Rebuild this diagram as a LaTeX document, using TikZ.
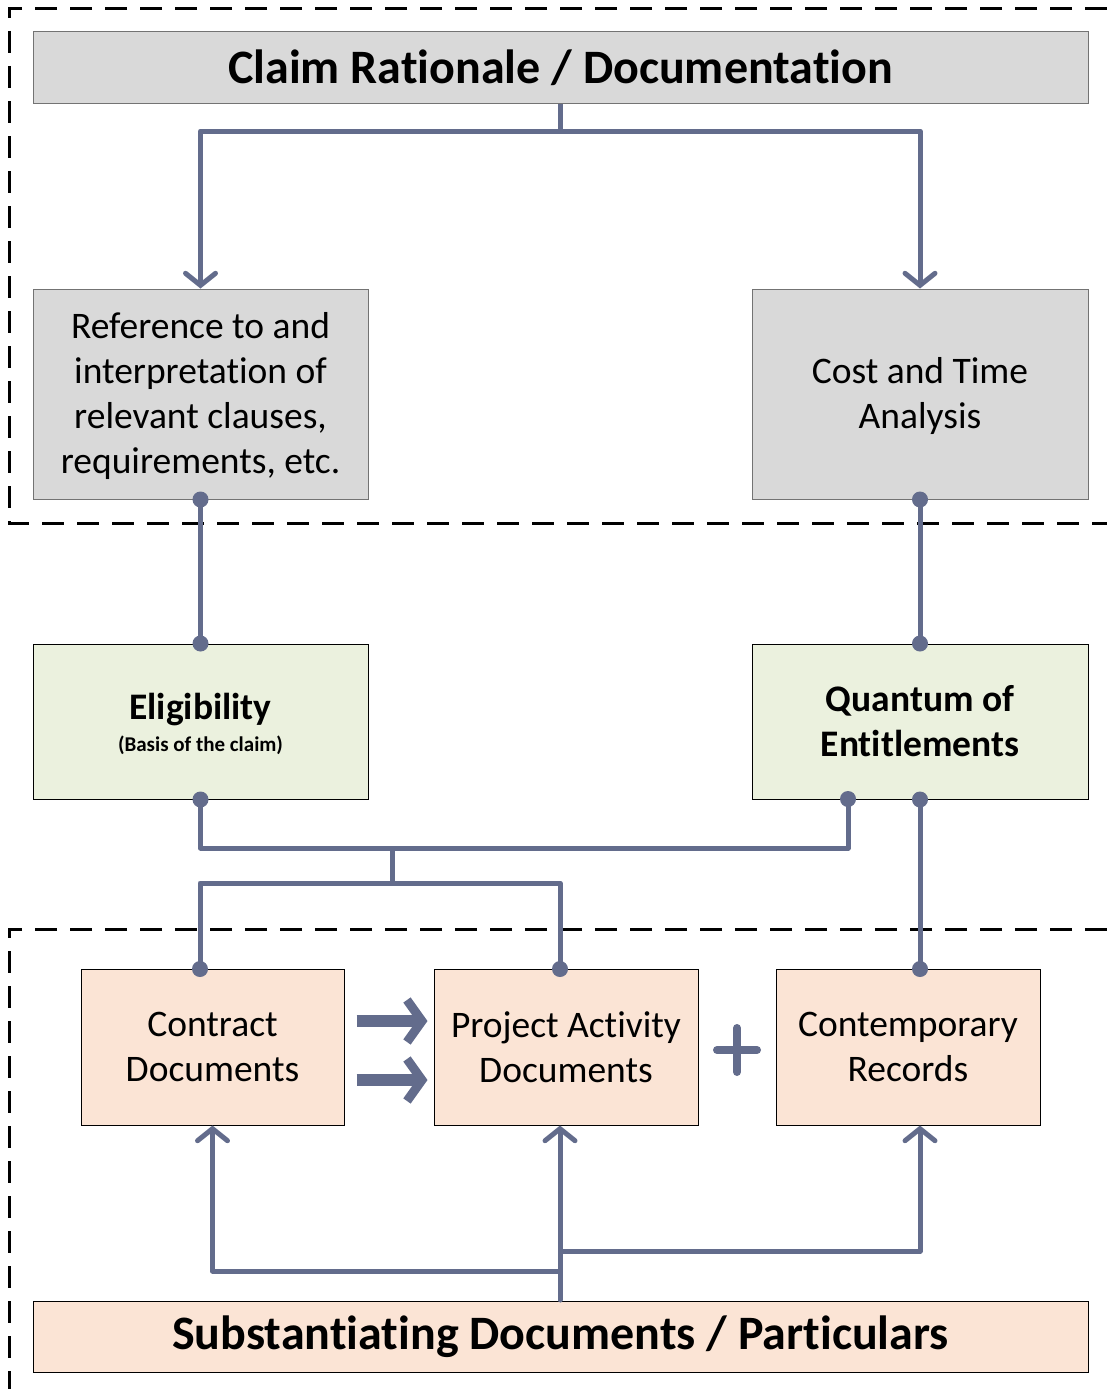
\documentclass[tikz,border=0pt]{standalone}
\usepackage{fontspec}
\setmainfont{Carlito}[Ligatures=NoCommon]
\usetikzlibrary{arrows.meta}
\definecolor{boxgray}{HTML}{D9D9D9}
\definecolor{boxgreen}{HTML}{EBF1DE}
\definecolor{boxpeach}{HTML}{FBE4D5}
\definecolor{link}{HTML}{636C8C}
\tikzset{
  box/.style={draw=black, line width=1pt, inner sep=0pt, align=center},
  graybox/.style={box, fill=boxgray, draw=gray!90!black},
  greenbox/.style={box, fill=boxgreen},
  peachbox/.style={box, fill=boxpeach},
  bodytext/.style={font=\fontsize{37.5}{45}\selectfont},
  headtext/.style={font=\fontsize{37.5}{45}\selectfont\bfseries},
  bigtext/.style={font=\fontsize{48}{56}\selectfont\bfseries},
  wire/.style={draw=link, line width=5pt, line join=round},
  barb/.style={-{Straight Barb[length=12pt, width=30pt, line cap=round, line width=5pt]}},
  fatarrow/.style={draw=link, line width=12pt, -{Straight Barb[length=15pt, width=42pt, line width=9pt]}},
  dot/.style={circle, fill=link, inner sep=0pt, minimum size=16pt},
  frame/.style={draw=black, line width=3pt, dash pattern=on 22pt off 13pt},
}
\begin{document}
\begin{tikzpicture}[x=1pt, y=-1pt]
\useasboundingbox (0,0) rectangle (1107,1389);

% dashed group frames
\draw[frame] (1107,9) -- (9,9) -- (9,523) -- (1107,523);
\draw[frame] (1107,929) -- (9,929) -- (9,1389);

% boxes
\node[graybox, bigtext, minimum width=1055pt, minimum height=71pt]
  (title) at (560.5,67.5) {Claim Rationale / Documentation};
\node[graybox, minimum width=335pt, minimum height=210pt] (ref) at (200.5,394) {};
\node[bodytext, align=center] (refT) at (200.5,396) {Reference to and\\interpretation of\\relevant clauses,\\requirements, etc.};
\node[graybox, minimum width=336pt, minimum height=210pt] (cost) at (920,394) {};
\node[bodytext, align=center] (costT) at (920,396) {Cost and Time\\Analysis};
\node[greenbox, minimum width=335pt, minimum height=155pt]
  (elig) at (200.5,721.5) {};
\node[headtext] (eligT) at (200.5,710) {Eligibility};
\node[font=\fontsize{21}{24}\selectfont\bfseries] (eligS) at (200.5,745) {(Basis of the claim)};
\node[greenbox, headtext, minimum width=336pt, minimum height=155pt]
  (quant) at (920,721.5) {Quantum of\\Entitlements};
\node[peachbox, bodytext, minimum width=263pt, minimum height=156pt]
  (contract) at (212.5,1047) {Contract\\Documents};
\node[peachbox, bodytext, minimum width=264pt, minimum height=156pt]
  (project) at (566,1047) {Project Activity\\Documents};
\node[peachbox, bodytext, minimum width=264pt, minimum height=156pt]
  (records) at (908,1047) {Contemporary\\Records};
\node[peachbox, bigtext, minimum width=1055pt, minimum height=71pt]
  (subst) at (560.5,1336.5) {Substantiating Documents / Particulars};

% junction points
\coordinate (tsplit) at (560,131);
\coordinate (qleft) at (848,799);
\coordinate (ejoin) at (392,848);
\coordinate (ldrop) at (392,883);
\coordinate (cin) at (200,969);
\coordinate (pin) at (560,969);
\coordinate (rin) at (920,969);
\coordinate (subtop) at (560,1300);

% top split into the two analysis boxes
\draw[wire] (title.south -| tsplit) -- (tsplit);
\draw[wire, barb] (tsplit) -| (ref.north);
\draw[wire, barb] (tsplit) -| (cost.north);

% analysis boxes to eligibility / quantum
\draw[wire] (ref.south) -- (elig.north);
\draw[wire] (cost.south) -- (quant.north);

% eligibility and quantum joined, feeding the document boxes
\draw[wire] (elig.south) |- (ejoin) -| (qleft);
\draw[wire] (ejoin) -- (ldrop);
\draw[wire] (cin) |- (ldrop) -| (pin);
\draw[wire] (quant.south -| rin) -- (rin);

\foreach \p in {ref.south, cost.south, elig.north, quant.north, elig.south, qleft, cin, pin, rin}
  \node[dot] at (\p) {};
\node[dot] at (quant.south -| rin) {};

% thick arrows and plus between the document boxes
\draw[fatarrow]
  ([xshift=12pt, yshift=-33pt]contract.east) -- ([xshift=-6pt, yshift=-33pt]project.west);
\draw[fatarrow]
  ([xshift=12pt, yshift=26pt]contract.east) -- ([xshift=-6pt, yshift=26pt]project.west);
\node[draw=none] (plus) at (737,1050) {};
\draw[draw=link, line width=8pt, line cap=round]
  ([xshift=-20pt]plus.center) -- ([xshift=20pt]plus.center)
  ([yshift=-22pt]plus.center) -- ([yshift=22pt]plus.center);

% substantiating documents up to each document box
\draw[wire, line cap=round, barb] (subtop) -- (project.south -| subtop);
\draw[wire, barb] (subtop |- 0,1271) -| (contract.south);
\draw[wire, barb] (subtop |- 0,1251) -| (records.south -| rin);
\end{tikzpicture}
\end{document}
